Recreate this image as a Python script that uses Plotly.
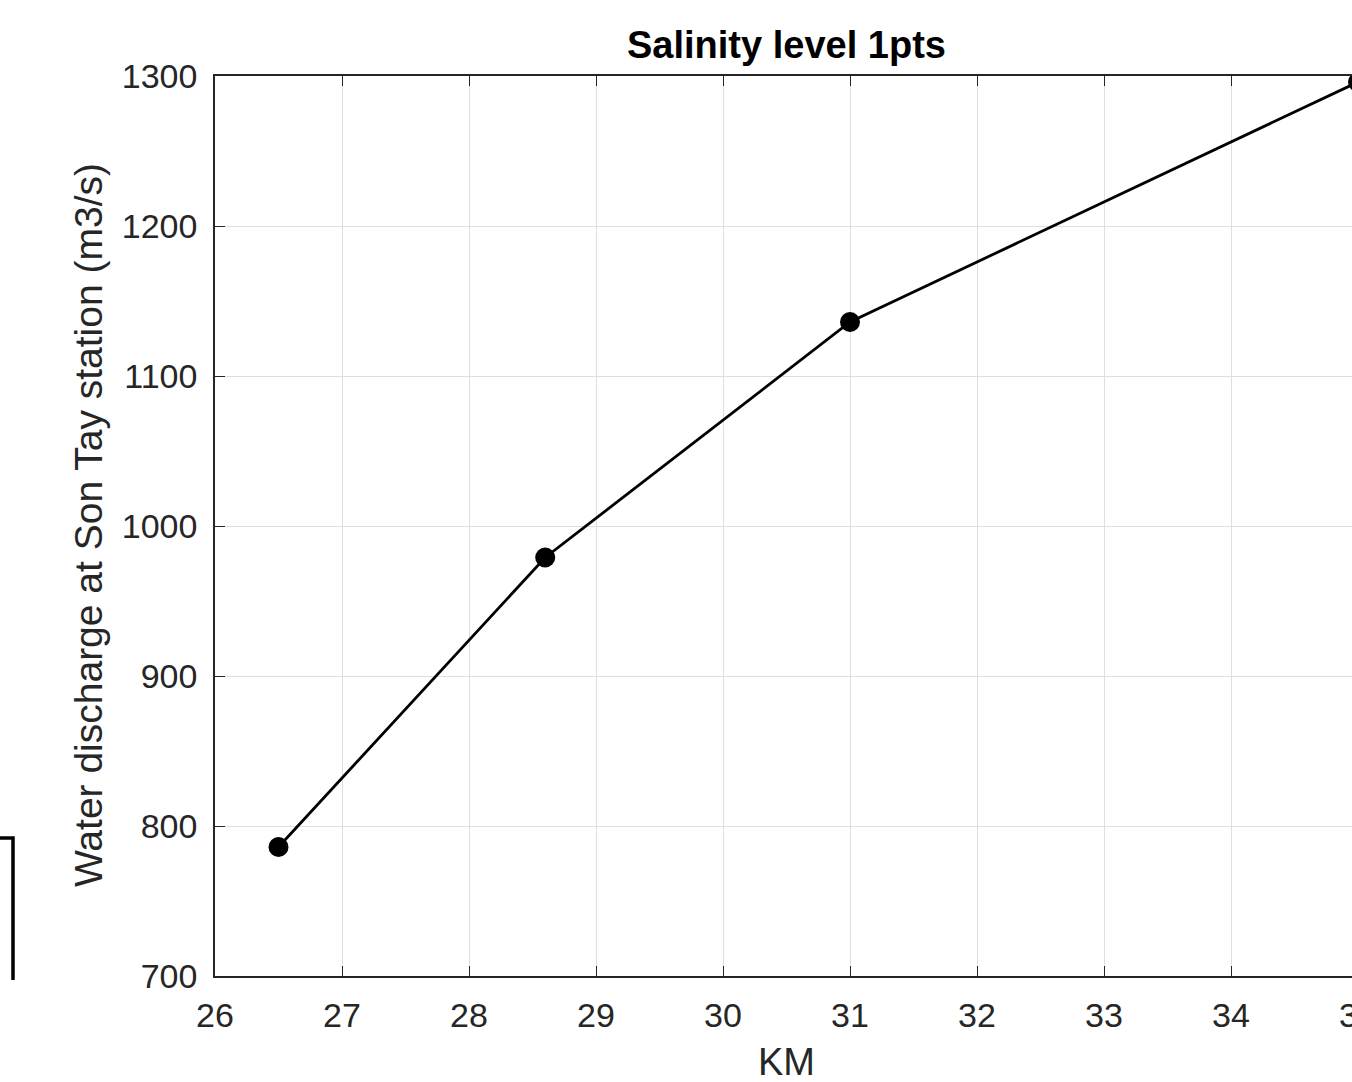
import plotly.graph_objects as go

# Data
km = [26.5, 28.6, 31.0, 35.0]
discharge = [786, 979, 1136, 1296]
x_ticks = [26, 27, 28, 29, 30, 31, 32, 33, 34, 35]
y_ticks = [700, 800, 900, 1000, 1100, 1200, 1300]

# The reference is cropped at the right: the axes run past the 1352px window.
W, H = 1380, 1082
L, T, B = 215, 76, 976          # plot area edges in pixels
PX_PER_UNIT = 127.0
x_end = 26 + (W - L) / PX_PER_UNIT

def px(xp):
    return (xp - L) / (W - L)

def py(yp):
    return (B - yp) / (B - T)

FONT = "Liberation Sans, Arial, Helvetica, sans-serif"
AX = "#262626"
GRID = "#dfdfdf"

fig = go.Figure()
fig.add_trace(go.Scatter(
    x=km, y=discharge, mode="lines+markers",
    line=dict(color="black", width=2.8),
    marker=dict(color="black", size=20),
    cliponaxis=False, showlegend=False,
))

fig.add_annotation(x=px(786), y=py(45), xref="paper", yref="paper",
                   text="<b>Salinity level 1pts</b>", showarrow=False,
                   xanchor="center", yanchor="middle",
                   font=dict(family=FONT, size=38, color="black"))
fig.add_annotation(x=px(786), y=py(1062), xref="paper", yref="paper",
                   text="KM", showarrow=False, xanchor="center", yanchor="middle",
                   font=dict(family=FONT, size=38, color=AX))
fig.add_annotation(x=px(88), y=py(525), xref="paper", yref="paper",
                   text="Water discharge at Son Tay station (m3/s)", showarrow=False,
                   textangle=-90, xanchor="center", yanchor="middle",
                   font=dict(family=FONT, size=39, color=AX))

# partially visible box at the left edge
fig.add_shape(type="path", xref="paper", yref="paper",
              path=f"M {px(-2)} {py(838)} L {px(13)} {py(838)} L {px(13)} {py(980)}",
              line=dict(color="black", width=3.5))

fig.update_layout(
    width=W, height=H,
    margin=dict(l=L, r=0, t=T, b=H - B, pad=0),
    paper_bgcolor="white", plot_bgcolor="white",
    xaxis=dict(range=[26, x_end], tickvals=x_ticks, ticktext=[str(v) for v in x_ticks],
               showgrid=True, gridcolor=GRID, gridwidth=1,
               showline=True, linecolor=AX, linewidth=1.5, mirror="ticks",
               ticks="inside", ticklen=10, tickcolor=AX, tickwidth=1,
               tickfont=dict(family=FONT, size=34, color=AX),
               ticklabelstandoff=8, ticklabeloverflow="allow", zeroline=False),
    yaxis=dict(range=[700, 1300], tickvals=y_ticks,
               showgrid=True, gridcolor=GRID, gridwidth=1,
               showline=True, linecolor=AX, linewidth=1.5, mirror=False,
               ticks="inside", ticklen=10, tickcolor=AX, tickwidth=1,
               tickfont=dict(family=FONT, size=34, color=AX),
               ticklabelstandoff=9, zeroline=False),
)

# remove the default page margin and scrollbars so the figure sits at the window origin
page_css = ("document.documentElement.style.margin='0';"
            "document.documentElement.style.overflow='hidden';"
            "document.body.style.margin='0';"
            "document.body.style.overflow='hidden';")

fig.write_html("out.html", post_script=page_css, config={"displayModeBar": False})
